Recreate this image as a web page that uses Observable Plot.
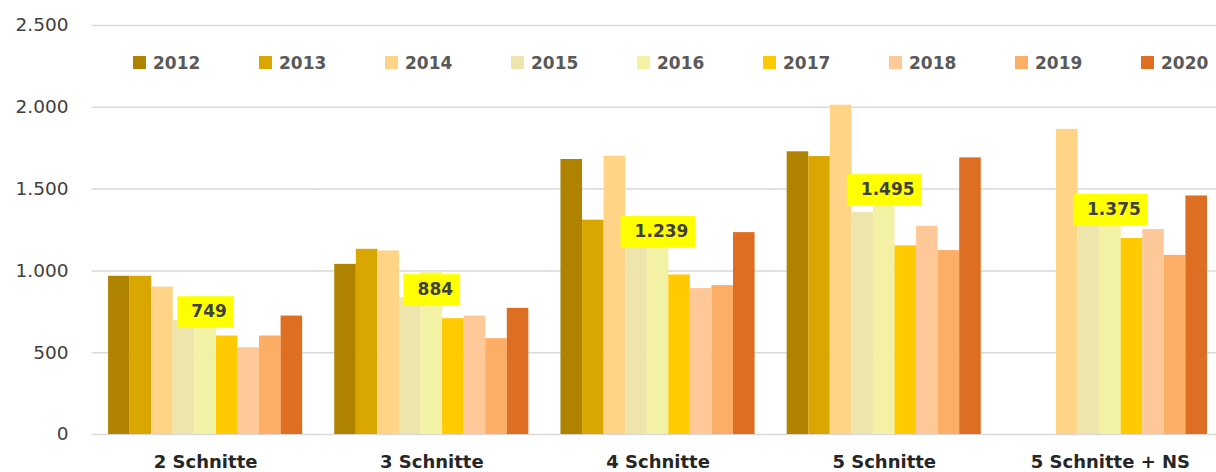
<!DOCTYPE html>
<html><head><meta charset="utf-8">
<script src="https://cdn.jsdelivr.net/npm/d3@7"></script>
<script src="https://cdn.jsdelivr.net/npm/@observablehq/plot@0.6"></script>
<style>
body{margin:0;background:#fff;}
#wrap{position:relative;width:1216px;height:472px;overflow:hidden;}
#legend{position:absolute;top:56px;left:0;width:1216px;height:14px;font:bold 17px "DejaVu Sans";color:#595959;}
.item{position:absolute;top:0;height:13px;display:flex;align-items:center;white-space:nowrap;}
.sw{width:13px;height:13px;margin-right:7px;flex:none;}
</style></head><body><div id="wrap"><div id="legend"></div></div>
<script>
const groups = ["2 Schnitte", "3 Schnitte", "4 Schnitte", "5 Schnitte", "5 Schnitte + NS"];
const years = ["2012", "2013", "2014", "2015", "2016", "2017", "2018", "2019", "2020"];
const colors = ["#AF8200", "#D9A700", "#FFD486", "#EDE5AC", "#F3F1A4", "#FFCA00", "#FFC899", "#FDAE66", "#DE6E22"];
// values per year, one entry per group (null = no bar)
const v2012 = [967, 1040, 1681, 1728, null];
const v2013 = [967, 1132, 1310, 1699, null];
const v2014 = [901, 1122, 1701, 2013, 1865];
const v2015 = [698, 836, 1210, 1357, 1370];
const v2016 = [750, 993, 1238, 1417, 1391];
const v2017 = [602, 708, 975, 1153, 1198];
const v2018 = [530, 724, 892, 1273, 1253];
const v2019 = [602, 586, 910, 1124, 1095];
const v2020 = [724, 771, 1234, 1691, 1458];
const averages = [749, 884, 1239, 1495, 1375];
const yTicks = [0, 500, 1000, 1500, 2000, 2500];

const series = [v2012, v2013, v2014, v2015, v2016, v2017, v2018, v2019, v2020];
const data = [];
years.forEach((yr, i) => groups.forEach((g, j) => {
  if (series[i][j] != null) data.push({group: g, year: yr, value: series[i][j]});
}));
const labels = groups.map((g, j) => ({group: g, avg: averages[j]}));
const de = v => d3.format(",")(v).replace(/,/g, ".");

const plot = Plot.plot({
  width: 1216, height: 472,
  marginLeft: 92, marginRight: 0, marginTop: 25, marginBottom: 38,
  style: {background: "#fff", fontFamily: "DejaVu Sans"},
  fx: {domain: groups, paddingInner: 0.142, paddingOuter: 0.0555, align: 0.64, label: null, round: false},
  x: {domain: years, padding: 0, axis: null, round: false},
  y: {domain: [0, 2500], axis: null},
  color: {domain: years, range: colors},
  marks: [
    Plot.ruleY(yTicks, {stroke: "#d9d9d9", strokeWidth: 1.5, insetLeft: -16.5, insetRight: -16.5}),
    Plot.barY(data, {fx: "group", x: "year", y: "value", fill: "year", inset: 0}),
    Plot.axisFx({anchor: "bottom", tickSize: 0, tickPadding: 21, fontSize: 18, fontWeight: "bold", color: "#262626", label: null}),
    Plot.axisY({ticks: yTicks, tickSize: 0, tickPadding: 40, tickFormat: de, fontSize: 18.5, color: "#404040", label: null}),
    Plot.text(labels, {fx: "group", y: "avg", text: d => de(d.avg), fontSize: 17, fontWeight: "bold", fill: "#404040"})
  ]
});
const wrap = document.getElementById("wrap");
wrap.insertBefore(plot, wrap.firstChild);

// yellow label boxes behind the average labels
plot.querySelectorAll('g[aria-label="text"] text').forEach(t => {
  const b = t.getBBox();
  const w = b.width + 21, h = 31.5;
  const r = document.createElementNS("http://www.w3.org/2000/svg", "rect");
  const tx = parseFloat(t.getAttribute("x")), ty = parseFloat(t.getAttribute("y"));
  const isNum = s => s != null && /^-?[\d.]+$/.test(s);
  r.setAttribute("x", (isNum(t.getAttribute("x")) ? tx : 0) - w / 2);
  r.setAttribute("y", (isNum(t.getAttribute("y")) ? ty : 0) - h / 2);
  r.setAttribute("width", w); r.setAttribute("height", h);
  r.setAttribute("fill", "#FFFF00");
  const tr = t.getAttribute("transform");
  if (tr) r.setAttribute("transform", tr);
  t.parentNode.insertBefore(r, t);
  t.setAttribute("dx", 3.5);
});

// legend
const legend = document.getElementById("legend");
years.forEach((yr, i) => {
  const it = document.createElement("div");
  it.className = "item";
  it.style.left = (133 + 126 * i) + "px";
  it.innerHTML = `<span class="sw" style="background:${colors[i]}"></span><span>${yr}</span>`;
  legend.appendChild(it);
});
</script></body></html>
